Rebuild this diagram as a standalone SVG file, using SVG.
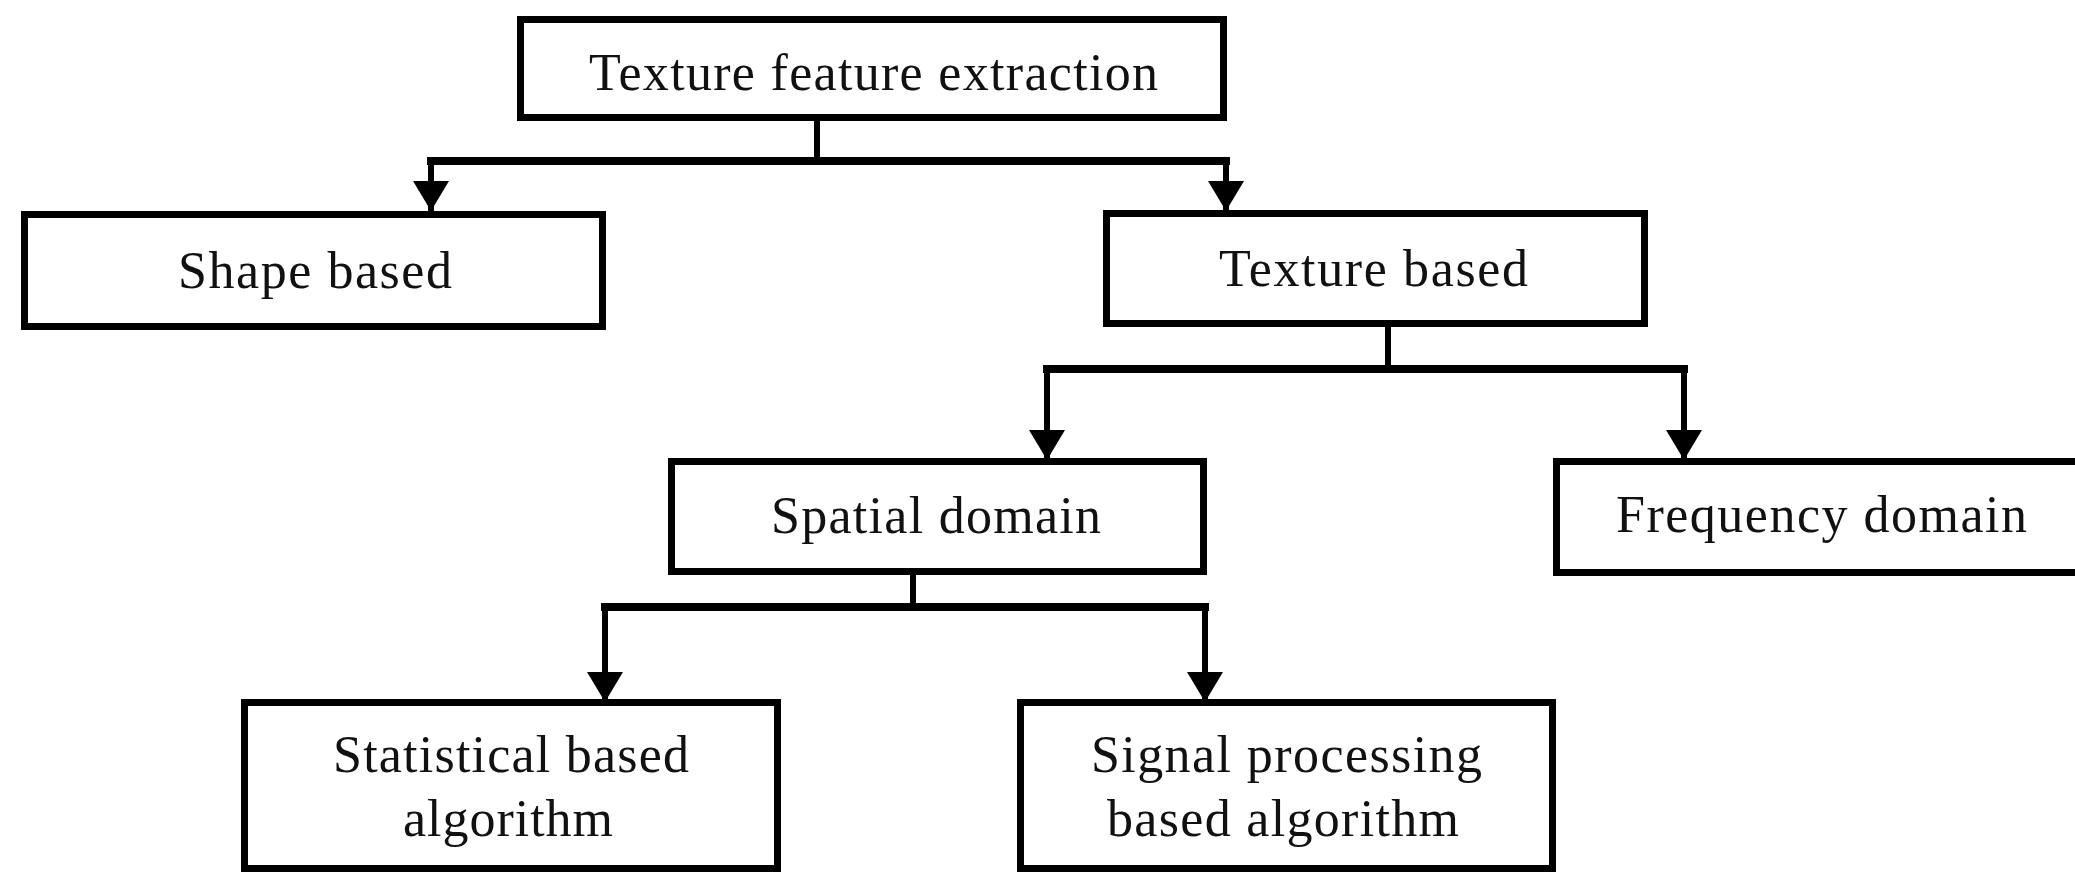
<svg xmlns="http://www.w3.org/2000/svg" width="2075" height="872" viewBox="0 0 2075 872">
<defs>
<style>
.box{fill:#fff;stroke:#000;stroke-width:7}
.lbl{font-family:"Liberation Serif","Times New Roman",serif;font-size:52px;fill:#111;text-anchor:start}
.v{fill:none;stroke:#000;stroke-width:6}
.h{fill:none;stroke:#000;stroke-width:8}
</style>
<marker id="arr" viewBox="0 0 30 36" refX="30" refY="18" markerWidth="30" markerHeight="36" markerUnits="userSpaceOnUse" orient="auto">
<path d="M0,0 L30,18 L0,36 z" fill="#000"/>
</marker>
</defs>
<rect width="2075" height="872" fill="#fff"/>
<g id="connectors">
<path class="v" d="M817,121 V161"/>
<path class="h" d="M427,161 H1230"/>
<path class="v" d="M431,158 V211" marker-end="url(#arr)"/>
<path class="v" d="M1226,158 V211" marker-end="url(#arr)"/>
<path class="v" d="M1388,325 V369"/>
<path class="h" d="M1043,369 H1688"/>
<path class="v" d="M1047,366 V460" marker-end="url(#arr)"/>
<path class="v" d="M1684,366 V460" marker-end="url(#arr)"/>
<path class="v" d="M913,573 V607"/>
<path class="h" d="M601,607 H1209"/>
<path class="v" d="M605,604 V702" marker-end="url(#arr)"/>
<path class="v" d="M1205,604 V702" marker-end="url(#arr)"/>
</g>
<g id="n-root">
<rect class="box" x="520.5" y="19.5" width="703" height="98"/>
<text class="lbl" x="589" y="90" textLength="569" lengthAdjust="spacing">Texture feature extraction</text>
</g>
<g id="n-shape">
<rect class="box" x="24.5" y="214.5" width="578" height="112"/>
<text class="lbl" x="178" y="288" textLength="274" lengthAdjust="spacing">Shape based</text>
</g>
<g id="n-texture">
<rect class="box" x="1106.5" y="213.5" width="538" height="110"/>
<text class="lbl" x="1219" y="286" textLength="309" lengthAdjust="spacing">Texture based</text>
</g>
<g id="n-spatial">
<rect class="box" x="671.5" y="461.5" width="532" height="110"/>
<text class="lbl" x="771" y="533" textLength="330" lengthAdjust="spacing">Spatial domain</text>
</g>
<g id="n-frequency">
<rect class="box" x="1556.5" y="461.5" width="540" height="111"/>
<text class="lbl" x="1616" y="532" textLength="411" lengthAdjust="spacing">Frequency domain</text>
</g>
<g id="n-statistical">
<rect class="box" x="244.5" y="702.5" width="533" height="166"/>
<text class="lbl" x="333" y="772" textLength="356" lengthAdjust="spacing">Statistical based</text>
<text class="lbl" x="403" y="836" textLength="210" lengthAdjust="spacing">algorithm</text>
</g>
<g id="n-signal">
<rect class="box" x="1020.5" y="702.5" width="532" height="166"/>
<text class="lbl" x="1091" y="772" textLength="391" lengthAdjust="spacing">Signal processing</text>
<text class="lbl" x="1107" y="836" textLength="352" lengthAdjust="spacing">based algorithm</text>
</g>
</svg>
